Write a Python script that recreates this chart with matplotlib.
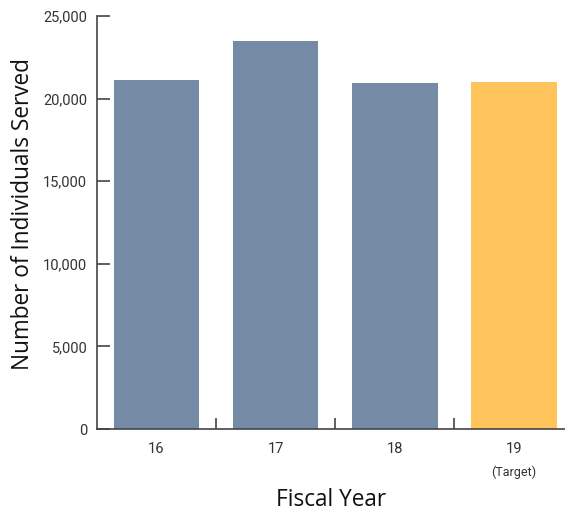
import matplotlib
matplotlib.use("Agg")
import matplotlib.pyplot as plt
from matplotlib import font_manager
from matplotlib.ticker import FuncFormatter

categories = ["16", "17", "18", "19"]
values = [21125, 23490, 20945, 21005]
colors = ["#748AA5", "#748AA5", "#748AA5", "#FEC45B"]
y_ticks = [0, 5000, 10000, 15000, 20000, 25000]

names = {f.name for f in font_manager.fontManager.ttflist}
tick_font = "Liberation Sans Narrow" if "Liberation Sans Narrow" in names else "Roboto"
label_font = "Open Sans" if "Open Sans" in names else "DejaVu Sans"
text_color = "#333333"

fig = plt.figure(figsize=(5.65, 5.11), dpi=100)
ax = fig.add_axes([97/565, 1-429/511, 1-97/565, (429-16)/511])

x = range(len(categories))
ax.bar(x, values, width=0.72, color=colors, zorder=2)

ax.set_xlim(-0.5, 3.43)
ax.set_ylim(0, 25000)
ax.set_yticks(y_ticks)
ax.yaxis.set_major_formatter(FuncFormatter(lambda v, p: f"{int(v):,}"))
ax.set_xticks(list(x))
ax.set_xticklabels(categories)
ax.set_xticks([0.5, 1.5, 2.5], minor=True)

for s in ["top", "right"]:
    ax.spines[s].set_visible(False)
for s in ["left", "bottom"]:
    ax.spines[s].set_color("#444444")
    ax.spines[s].set_linewidth(1.2)

ax.tick_params(axis="y", direction="in", length=9, width=1.2, color="#444444",
               labelsize=10.5, labelcolor=text_color, pad=7)
ax.tick_params(axis="x", which="major", length=0, pad=9, labelsize=10.5, labelcolor=text_color)
ax.tick_params(axis="x", which="minor", direction="in", length=8, width=1.2, color="#444444")
for lab in ax.get_xticklabels() + ax.get_yticklabels():
    lab.set_fontfamily(tick_font)

ax.text(3, -0.105, "(Target)", transform=ax.get_xaxis_transform(), ha="center", va="center",
        fontsize=9, color=text_color, fontfamily=tick_font)

ax.set_ylabel("Number of Individuals Served", fontsize=16.3, color="#111111",
              fontfamily=label_font, fontweight="normal")
ax.yaxis.set_label_coords(-0.132, 0.52)
ax.set_xlabel("Fiscal Year", fontsize=16.3, color="#111111",
              fontfamily=label_font, fontweight="normal")
ax.xaxis.set_label_coords(0.5, -0.143)

fig.savefig("out.png", dpi=100)
